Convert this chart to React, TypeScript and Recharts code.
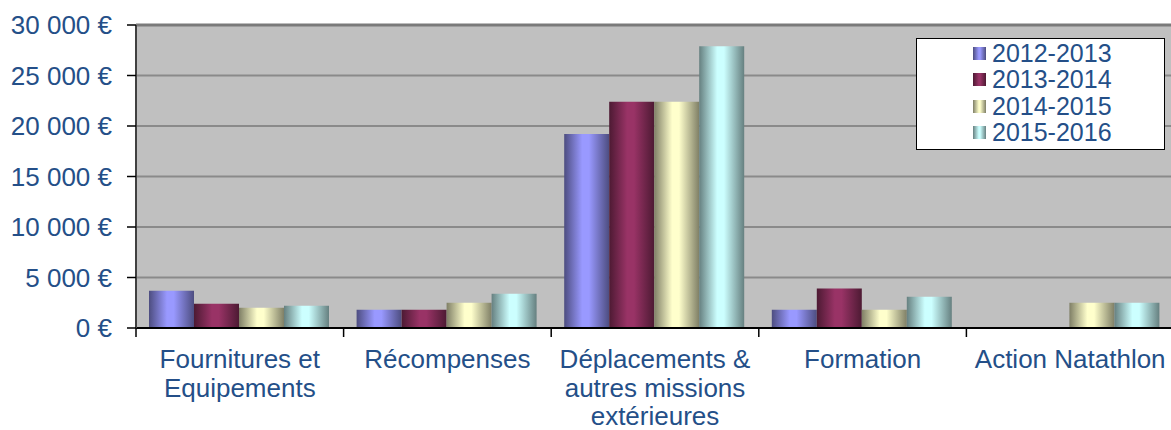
import { BarChart, Bar, XAxis, YAxis, CartesianGrid, Legend, ReferenceLine } from 'recharts';

const categories = [
  'Fournitures et\nEquipements',
  'Récompenses',
  'Déplacements &\nautres missions\nextérieures',
  'Formation',
  'Action Natathlon',
];
const seasons = ['2012-2013', '2013-2014', '2014-2015', '2015-2016'];
const values2012 = [3700, 1800, 19200, 1800, 0];
const values2013 = [2400, 1800, 22400, 3900, 0];
const values2014 = [2000, 2500, 22400, 1800, 2500];
const values2015 = [2200, 3400, 27900, 3100, 2500];
const yTicks = [0, 5000, 10000, 15000, 20000, 25000, 30000];

const seriesValues = [values2012, values2013, values2014, values2015];

// base colour + darker edge for the Excel-style cylinder shading
const SHADES = [
  { base: '#9999FF', dark: '#4D4D80' },
  { base: '#993366', dark: '#4D1A33' },
  { base: '#FFFFCC', dark: '#7F7F66' },
  { base: '#CCFFFF', dark: '#668080' },
];

const data = categories.map((name, i) => {
  const row: Record<string, string | number> = { name };
  seasons.forEach((s, k) => {
    row[s] = seriesValues[k][i];
  });
  return row;
});

const FONT = '"Liberation Sans", Arial, sans-serif';
const TEXT = '#244F88';

const euro = (v: number) =>
  `${String(v).replace(/\B(?=(\d{3})+(?!\d))/g, ' ')} €`;

function CategoryTick(props: any) {
  const { x, y, payload, index } = props;
  const half = payload?.offset ?? 103.75;
  const lines = String(payload.value).split('\n');
  const last = index === categories.length - 1;
  return (
    <g>
      <line x1={x - half} x2={x - half} y1={y} y2={y + 9} stroke="#000" strokeWidth={1.5} />
      {last && <line x1={x + half} x2={x + half} y1={y} y2={y + 9} stroke="#000" strokeWidth={1.5} />}
      <text x={x} y={y + 40} textAnchor="middle" fill={TEXT} fontSize={26} fontFamily={FONT}>
        {lines.map((l, i) => (
          <tspan key={i} x={x} dy={i === 0 ? 0 : 28.5}>
            {l}
          </tspan>
        ))}
      </text>
    </g>
  );
}

function renderLegend() {
  return (
    <div
      style={{
        background: '#fff',
        border: '1px solid #000',
        padding: '1px 0 3px 56px',
        boxSizing: 'border-box',
        width: 249,
        fontFamily: FONT,
        fontSize: 25,
        color: TEXT,
      }}
    >
      {seasons.map((s, k) => (
        <div key={s} style={{ display: 'flex', alignItems: 'center', height: 26.5 }}>
          <span
            style={{
              display: 'inline-block',
              width: 13,
              height: 13,
              marginRight: 6,
              background: `linear-gradient(to right, ${SHADES[k].dark}, ${SHADES[k].base} 45%, ${SHADES[k].base} 55%, ${SHADES[k].dark})`,
            }}
          />
          {s}
        </div>
      ))}
    </div>
  );
}

export default function App() {
  return (
    <div style={{ position: 'absolute', left: 0, top: 0, width: 1171, height: 430, overflow: 'hidden', background: '#fff' }}>
      <BarChart
        width={1174}
        height={430}
        data={data}
        margin={{ top: 25, right: 0, left: 0, bottom: 0 }}
        barCategoryGap={13}
        barGap={0}
      >
        <defs>
          {SHADES.map((c, k) => (
            <linearGradient key={k} id={`shade${k}`} x1="0" y1="0" x2="1" y2="0">
              <stop offset="0%" stopColor={c.dark} />
              <stop offset="40%" stopColor={c.base} />
              <stop offset="55%" stopColor={c.base} />
              <stop offset="100%" stopColor={c.dark} />
            </linearGradient>
          ))}
        </defs>
        <CartesianGrid vertical={false} stroke="#8a8a8a" strokeWidth={2} fill="#C0C0C0" fillOpacity={1} />
        <ReferenceLine y={30000} stroke="#7a7a7a" strokeWidth={3} />
        <XAxis
          dataKey="name"
          height={102}
          tickLine={false}
          tickSize={0}
          tickMargin={0}
          interval={0}
          axisLine={{ stroke: '#000', strokeWidth: 2 }}
          tick={<CategoryTick />}
        />
        <YAxis
          width={136}
          domain={[0, 30000]}
          ticks={yTicks}
          interval={0}
          tickFormatter={euro}
          tickSize={9}
          tickMargin={15}
          tickLine={{ stroke: '#000', strokeWidth: 1.5 }}
          axisLine={{ stroke: '#404040', strokeWidth: 2 }}
          tick={{ fill: TEXT, fontSize: 26, fontFamily: FONT }}
        />
        <Legend
          layout="horizontal"
          verticalAlign="middle"
          align="center"
          content={renderLegend}
          wrapperStyle={{ position: 'absolute', left: 916, top: 38, width: 249 }}
        />
        {seasons.map((s, k) => (
          <Bar key={s} dataKey={s} fill={`url(#shade${k})`} isAnimationActive={false} />
        ))}
      </BarChart>
    </div>
  );
}
